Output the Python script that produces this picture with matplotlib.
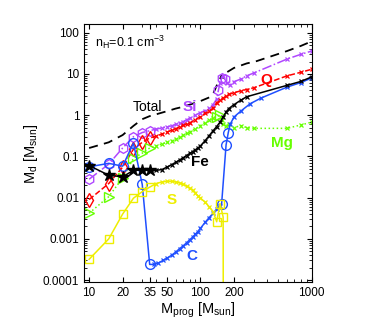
import matplotlib
matplotlib.use("Agg")
import matplotlib.pyplot as plt
import numpy as np

plt.rcParams["font.family"] = ["Liberation Sans", "DejaVu Sans"]
plt.rcParams["mathtext.default"] = "regular"

# ---- data (progenitor mass [Msun], dust mass [Msun]) ----
total_mass = [10, 15, 20, 25, 30, 35, 40, 50, 60, 70, 80, 100, 120, 130, 140, 150, 155, 160, 165, 170, 200, 260, 320, 600, 800, 1000]
total_dust = [0.16, 0.22, 0.33, 0.55, 0.8, 0.95, 1.05, 1.25, 1.45, 1.6, 1.8, 2.2, 2.7, 3.3, 5.2, 7.5, 9.5, 8.0, 9.0, 10.7, 14, 18, 20.5, 36, 48, 62]

si_mass = [10, 15, 20, 25, 30, 35, 40, 45, 50, 55, 60, 65, 70, 75, 80, 90, 100, 110, 120, 130, 140, 145, 150, 155, 160, 165, 175, 185, 200, 230, 260, 300, 600, 800, 1000]
si_dust = [0.028, 0.065, 0.16, 0.3, 0.38, 0.42, 0.46, 0.49, 0.52, 0.55, 0.6, 0.65, 0.7, 0.77, 0.84, 1.0, 1.15, 1.3, 1.5, 1.8, 2.5, 4.0, 6.0, 8.0, 9.0, 7.5, 6.0, 5.5, 6.5, 7.5, 9.0, 10.5, 23, 30, 36]
si_big = [10, 15, 20, 25, 30, 35, 145, 155, 165]

q_mass = [10, 15, 20, 25, 30, 35, 40, 45, 50, 55, 60, 65, 70, 75, 80, 90, 100, 110, 120, 130, 140, 150, 160, 170, 180, 200, 230, 260, 300, 600, 800, 1000]
q_dust = [0.009, 0.022, 0.055, 0.15, 0.22, 0.28, 0.31, 0.35, 0.39, 0.43, 0.47, 0.52, 0.57, 0.61, 0.65, 0.78, 0.92, 1.1, 1.25, 1.5, 2.0, 2.3, 2.6, 2.9, 3.2, 3.5, 3.9, 4.2, 4.6, 9.0, 11, 13]
q_big = [10, 15, 20, 25, 30, 35]

mg_mass = [10, 15, 20, 25, 30, 35, 40, 45, 50, 55, 60, 65, 70, 75, 80, 90, 100, 110, 120, 130, 140, 150, 155, 160, 170, 180, 200, 230, 260, 300, 600, 800, 1000]
mg_dust = [0.0042, 0.0106, 0.03, 0.09, 0.12, 0.16, 0.18, 0.2, 0.22, 0.24, 0.27, 0.3, 0.33, 0.36, 0.4, 0.47, 0.56, 0.66, 0.76, 0.86, 0.92, 1.0, 0.75, 0.6, 0.55, 0.62, 0.5, 0.56, 0.5, 0.48, 0.48, 0.58, 0.68]
mg_big = [10, 15, 20, 25, 30, 35, 140, 150]

fe_mass = [10, 15, 20, 25, 30, 35, 40, 45, 50, 55, 60, 65, 70, 75, 80, 85, 90, 95, 100, 110, 120, 130, 140, 150, 160, 170, 180, 200, 230, 260, 600, 800, 1000]
fe_dust = [0.06, 0.035, 0.032, 0.046, 0.047, 0.046, 0.046, 0.048, 0.055, 0.063, 0.072, 0.082, 0.093, 0.105, 0.118, 0.13, 0.145, 0.16, 0.18, 0.24, 0.32, 0.42, 0.53, 0.68, 0.9, 1.2, 1.45, 1.8, 2.3, 2.8, 5.3, 6.6, 8.5]
fe_big = [10, 15, 20, 25, 30, 35]

c_mass = [10, 15, 20, 25, 30, 35, 38, 42, 46, 50, 55, 60, 65, 70, 75, 80, 85, 90, 95, 100, 110, 120, 130, 140, 150, 155, 170, 178, 185, 200, 230, 280, 350, 600, 800, 1000]
c_dust = [0.056, 0.068, 0.058, 0.21, 0.021, 0.00024, 0.00024, 0.00026, 0.0003, 0.00034, 0.0004, 0.00048, 0.00058, 0.00068, 0.0008, 0.00095, 0.0011, 0.0013, 0.0015, 0.0018, 0.0025, 0.0033, 0.0042, 0.0053, 0.0063, 0.007, 0.19, 0.38, 0.6, 0.9, 1.25, 1.9, 2.6, 4.8, 6.2, 8.0]
c_big = [10, 15, 20, 25, 30, 35, 155, 170, 178]

s_mass = [10, 15, 20, 25, 30, 35, 40, 45, 50, 55, 60, 65, 70, 75, 80, 85, 90, 95, 100, 110, 120, 130, 140, 150, 160, 162]
s_dust = [0.00032, 0.001, 0.004, 0.0097, 0.014, 0.018, 0.022, 0.024, 0.025, 0.025, 0.024, 0.023, 0.021, 0.019, 0.017, 0.015, 0.013, 0.011, 0.0098, 0.0078, 0.006, 0.0046, 0.0026, 0.0072, 0.0034, 1e-12]
s_big = [10, 15, 20, 25, 30, 35, 140, 150, 160]

x_ticks = [10, 20, 35, 50, 100, 200, 1000]
y_ticks = [1e-4, 1e-3, 1e-2, 1e-1, 1, 10, 100]
y_tick_labels = ["0.0001", "0.001", "0.01", "0.1", "1", "10", "100"]

PURPLE = "#b048ff"
RED = "#ff0000"
GREEN = "#66ff00"
YELLOW = "#eeee00"
BLUE = "#1f4fff"


def draw(ax, mass, dust, big, color, ls, marker, msize=7, filled=False):
    mass = np.asarray(mass, float)
    dust = np.asarray(dust, float)
    ax.plot(mass, dust, color=color, ls=ls, lw=1.1)
    sel = np.isin(mass, big)
    small = ~sel & (dust > 1e-6)
    ax.plot(mass[small], dust[small], ls="none", marker="x", ms=3.2, mew=0.9, color=color)
    ax.plot(mass[sel], dust[sel], ls="none", marker=marker, ms=msize,
            mfc=color if filled else "none", mew=1.0, color=color)


fig = plt.figure(figsize=(3.82, 3.27), dpi=100)
ax = fig.add_axes([0.22, 0.1376, 0.596, 0.788])
ax.set_xscale("log")
ax.set_yscale("log")

ax.plot(total_mass, total_dust, color="black", ls=(0, (5, 3.5)), lw=1.3)
draw(ax, si_mass, si_dust, si_big, PURPLE, "-.", "h")
draw(ax, q_mass, q_dust, q_big, RED, "--", "d")
draw(ax, mg_mass, mg_dust, mg_big, GREEN, ":", ">")
draw(ax, c_mass, c_dust, c_big, BLUE, "-", "o")
draw(ax, s_mass, s_dust, s_big, YELLOW, "-", "s", msize=6)
draw(ax, fe_mass, fe_dust, fe_big, "black", "-", "*", msize=9, filled=True)

ax.set_xlim(9, 1000)
ax.set_ylim(9e-5, 160)
ax.set_xticks(x_ticks)
ax.set_xticklabels([str(v) for v in x_ticks])
ax.set_yticks(y_ticks)
ax.set_yticklabels(y_tick_labels)
ax.tick_params(which="both", direction="in", top=True, right=True, labelsize=8.5)
ax.tick_params(which="major", length=3.5)
ax.tick_params(which="minor", length=2)

ax.set_xlabel("$M_{prog}$ [$M_{sun}$]", fontsize=10.5, labelpad=1)
ax.set_ylabel("$M_d$ [$M_{sun}$]", fontsize=10.5, labelpad=2)

ax.text(0.048, 0.93, "$n_H$=0.1 cm$^{-3}$", transform=ax.transAxes, fontsize=9, va="center")
ax.text(0.277, 0.679, "Total", transform=ax.transAxes, fontsize=10, ha="center", va="center")
ax.text(0.466, 0.679, "Si", transform=ax.transAxes, fontsize=11, ha="center", va="center", color=PURPLE, weight="bold")
ax.text(0.802, 0.784, "Q", transform=ax.transAxes, fontsize=11, ha="center", va="center", color=RED, weight="bold")
ax.text(0.868, 0.538, "Mg", transform=ax.transAxes, fontsize=11, ha="center", va="center", color=GREEN, weight="bold")
ax.text(0.509, 0.467, "Fe", transform=ax.transAxes, fontsize=11, ha="center", va="center", color="black", weight="bold")
ax.text(0.385, 0.318, "S", transform=ax.transAxes, fontsize=11, ha="center", va="center", color=YELLOW, weight="bold")
ax.text(0.473, 0.099, "C", transform=ax.transAxes, fontsize=11, ha="center", va="center", color=BLUE, weight="bold")

fig.savefig("out.png", dpi=100)
